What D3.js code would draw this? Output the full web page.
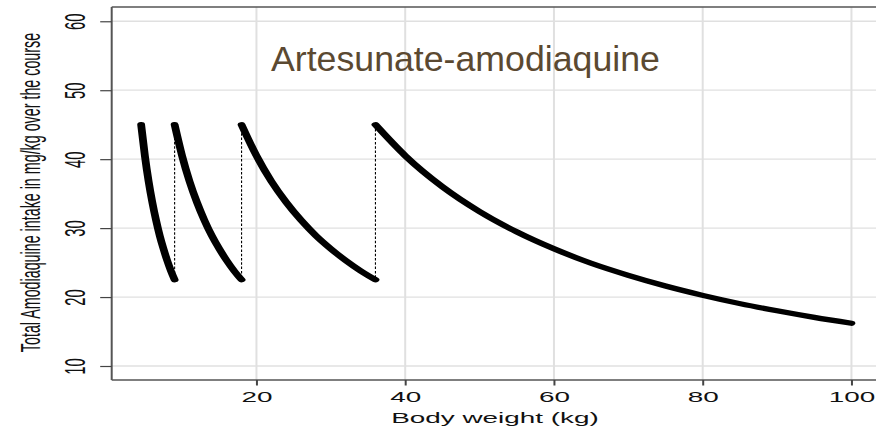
<!DOCTYPE html>
<html>
<head>
<meta charset="utf-8">
<script src="https://cdn.jsdelivr.net/npm/d3@7"></script>
<style>
  html, body { margin: 0; padding: 0; background: #fff; }
  svg { display: block; }
  text { font-family: "Liberation Sans", Arial, sans-serif; }
</style>
</head>
<body>
<div id="chart"></div>
<script>
// ---- data ----
const title = "Artesunate-amodiaquine";
const xLabel = "Body weight (kg)";
const yLabel = "Total Amodiaquine intake in mg/kg over the course";
const xTicks = [20, 40, 60, 80, 100];
const yTicks = [10, 20, 30, 40, 50, 60];

// weight band 1 (4.5 - 9 kg)
const band1Weight = [4.5, 5, 5.5, 6, 6.5, 7, 7.5, 8, 8.5, 9];
const band1Dose   = [45, 40.5, 36.8, 33.75, 31.15, 28.9, 27, 25.3, 23.8, 22.5];
// weight band 2 (9 - 18 kg)
const band2Weight = [9, 10, 11, 12, 13, 14, 15, 16, 17, 18];
const band2Dose   = [45, 40.5, 36.8, 33.75, 31.15, 28.9, 27, 25.3, 23.8, 22.5];
// weight band 3 (18 - 36 kg)
const band3Weight = [18, 20, 22, 24, 26, 28, 30, 32, 34, 36];
const band3Dose   = [45, 40.5, 36.8, 33.75, 31.15, 28.9, 27, 25.3, 23.8, 22.5];
// weight band 4 (36 - 100 kg)
const band4Weight = [36, 40, 45, 50, 55, 60, 65, 70, 75, 80, 85, 90, 95, 100];
const band4Dose   = [45, 40.5, 36, 32.4, 29.45, 27, 24.9, 23.15, 21.6, 20.25, 19.05, 18, 17.05, 16.2];

// dotted connectors at the band boundaries
const boundaryWeight = [9, 18, 36];
const boundaryTop    = [45, 45, 45];
const boundaryBottom = [22.5, 22.5, 22.5];

// ---- layout ----
const W = 876, H = 432;
const K = 1.95;    // horizontal stretch of the original R text
const KC = 1.5;    // horizontal stretch of the curve pen
const svg = d3.select("#chart").append("svg").attr("width", W).attr("height", H);

const x = d3.scaleLinear().domain([0.54, 103.3]).range([111.7, 876]);
const y = d3.scaleLinear().domain([7.97, 62.07]).range([380, 7]);

// grid
svg.append("g").selectAll("line").data(yTicks).join("line")
  .attr("x1", x.range()[0]).attr("x2", W)
  .attr("y1", d => y(d)).attr("y2", d => y(d))
  .attr("stroke", "#e0e0e0").attr("stroke-width", 1.3);
svg.append("g").selectAll("line").data(xTicks).join("line")
  .attr("x1", d => x(d)).attr("x2", d => x(d))
  .attr("y1", y.range()[1]).attr("y2", y.range()[0])
  .attr("stroke", "#e0e0e0").attr("stroke-width", 2);

// top border
svg.append("line").attr("x1", x.range()[0]).attr("x2", W)
  .attr("y1", y.range()[1]).attr("y2", y.range()[1])
  .attr("stroke", "#555").attr("stroke-width", 1.4);

// dotted boundaries
svg.append("g").selectAll("line").data(boundaryWeight).join("line")
  .attr("x1", d => x(d)).attr("x2", d => x(d))
  .attr("y1", (d, i) => y(boundaryTop[i])).attr("y2", (d, i) => y(boundaryBottom[i]))
  .attr("stroke", "#000").attr("stroke-width", 1.1)
  .attr("stroke-dasharray", "2.5,1.8");

// curves (drawn in a stretched frame so the pen looks like the original ellipses)
const xs = d3.scaleLinear().domain(x.domain()).range(x.range().map(v => v / KC));
const line = d3.line().x(d => xs(d[0])).y(d => y(d[1])).curve(d3.curveMonotoneX);
const bands = [
  d3.zip(band1Weight, band1Dose),
  d3.zip(band2Weight, band2Dose),
  d3.zip(band3Weight, band3Dose),
  d3.zip(band4Weight, band4Dose)
];
const gCurves = svg.append("g").attr("transform", `scale(${KC},1)`);
gCurves.selectAll("path").data(bands).join("path")
  .attr("d", line)
  .attr("fill", "none").attr("stroke", "#000")
  .attr("stroke-width", 5.2)
  .attr("stroke-linecap", "round").attr("stroke-linejoin", "round");

// x axis
const gx = svg.append("g").attr("transform", `translate(0,${y.range()[0]})`)
  .call(d3.axisBottom(x).tickValues(xTicks).tickSize(5.5).tickSizeOuter(0).tickFormat(d3.format("d")));
gx.select(".domain").attr("d", `M${x.range()[0]},0H${W}`).attr("stroke", "#555").attr("stroke-width", 1.3);
gx.selectAll(".tick line").attr("stroke", "#444").attr("stroke-width", 2);
gx.selectAll(".tick text")
  .attr("y", null).attr("dy", null)
  .attr("transform", `translate(0,21.5) scale(${K},1)`)
  .attr("text-anchor", "middle")
  .attr("font-size", 14.3).attr("fill", "#111")
  .attr("font-family", '"Liberation Sans", Arial, sans-serif');

// y axis
const gy = svg.append("g").attr("transform", `translate(${x.range()[0]},0)`)
  .call(d3.axisLeft(y).tickValues(yTicks).tickSize(11.5).tickSizeOuter(0).tickFormat(d3.format("d")));
gy.select(".domain").attr("d", `M0,${y.range()[0]}V${y.range()[1]}`).attr("stroke", "#555").attr("stroke-width", 2);
gy.selectAll(".tick line").attr("stroke", "#444").attr("stroke-width", 1.2);
gy.selectAll(".tick text")
  .attr("x", null).attr("dy", null)
  .attr("transform", `translate(-26.5,0) scale(${K},1) rotate(-90)`)
  .attr("text-anchor", "middle")
  .attr("font-size", 14.8).attr("fill", "#111")
  .attr("font-family", '"Liberation Sans", Arial, sans-serif');

// axis titles
svg.append("text")
  .attr("transform", `translate(495,423) scale(${K},1)`)
  .attr("text-anchor", "middle").attr("font-size", 14.3).attr("fill", "#111")
  .text(xLabel);
svg.append("text")
  .attr("transform", `translate(40,192.5) scale(${K},1) rotate(-90)`)
  .attr("text-anchor", "middle").attr("font-size", 14.3).attr("fill", "#111")
  .text(yLabel);

// chart title
svg.append("text")
  .attr("x", 271).attr("y", 71)
  .attr("font-size", 35.7).attr("fill", "#5B4931")
  .text(title);
</script>
</body>
</html>
